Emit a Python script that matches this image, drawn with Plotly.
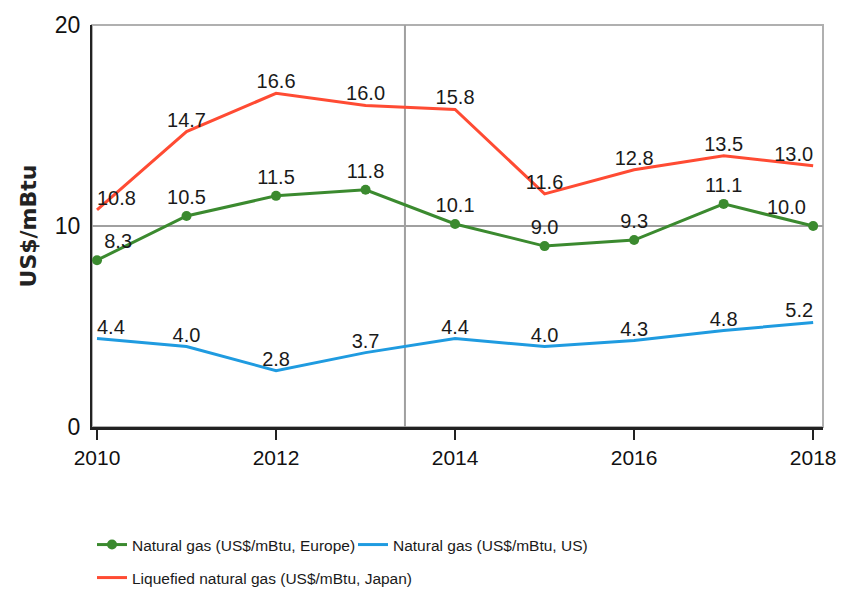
import plotly.graph_objects as go

years = [2010, 2011, 2012, 2013, 2014, 2015, 2016, 2017, 2018]
europe = [8.3, 10.5, 11.5, 11.8, 10.1, 9.0, 9.3, 11.1, 10.0]
us = [4.4, 4.0, 2.8, 3.7, 4.4, 4.0, 4.3, 4.8, 5.2]
japan = [10.8, 14.7, 16.6, 16.0, 15.8, 11.6, 12.8, 13.5, 13.0]
names = ["Natural gas (US$/mBtu, Europe)", "Natural gas (US$/mBtu, US)",
         "Liquefied natural gas (US$/mBtu, Japan)"]
colors = ["#3b8a2f", "#1f9be0", "#ff4b33"]
y_ticks = [0, 10, 20]
x_ticks = [2010, 2012, 2014, 2016, 2018]
divider_x = 2013.44

FONT = "Liberation Sans, Arial, sans-serif"
LBL = dict(size=20, color="#1a1a1a", family=FONT)

def positions(n):
    return ["top right"] + ["top center"] * (n - 2) + ["top left"]

fig = go.Figure()
fig.add_trace(go.Scatter(x=years, y=europe, name=names[0], mode="lines+markers+text",
                         line=dict(color=colors[0], width=3), marker=dict(size=10, color=colors[0]),
                         text=[f"{v:.1f}" for v in europe], textposition=positions(len(years)),
                         textfont=LBL, cliponaxis=False, legend="legend"))
fig.add_trace(go.Scatter(x=years, y=us, name=names[1], mode="lines+text",
                         line=dict(color=colors[1], width=3),
                         text=[f"{v:.1f}" for v in us], textposition=positions(len(years)),
                         textfont=LBL, cliponaxis=False, legend="legend"))
fig.add_trace(go.Scatter(x=years, y=japan, name=names[2], mode="lines+text",
                         line=dict(color=colors[2], width=3),
                         text=[f"{v:.1f}" for v in japan], textposition=positions(len(years)),
                         textfont=LBL, cliponaxis=False, legend="legend2"))

# frame
fig.add_shape(type="rect", xref="paper", yref="paper", x0=0, x1=1, y0=0, y1=1,
              line=dict(color="#b0b0b0", width=2), layer="below")
fig.add_shape(type="line", xref="x", yref="paper", x0=divider_x, x1=divider_x, y0=0, y1=1,
              line=dict(color="#a0a0a0", width=2), layer="below")

LEG_FONT = dict(size=15.5, family=FONT, color="#1a1a1a")
fig.update_layout(
    width=851, height=599,
    margin=dict(l=84, r=36, t=17, b=180),
    paper_bgcolor="white", plot_bgcolor="white",
    font=dict(family=FONT, color="#1a1a1a"),
    showlegend=True,
    legend=dict(orientation="h", x=0.0, xanchor="left", y=-0.2935, yanchor="middle",
                font=LEG_FONT, entrywidth=216, traceorder="normal", itemwidth=30,
                bgcolor="rgba(0,0,0,0)"),
    legend2=dict(orientation="h", x=0.0, xanchor="left", y=-0.3756, yanchor="middle",
                 font=LEG_FONT, itemwidth=30, bgcolor="rgba(0,0,0,0)"),
    xaxis=dict(range=[2009.944, 2018.11], tickvals=x_ticks, ticks="outside", ticklen=10,
               tickwidth=2, tickcolor="#222", showgrid=False, zeroline=False,
               showline=True, linecolor="#222", linewidth=3, automargin=False,
               tickfont=dict(size=21, family=FONT, color="#111")),
    yaxis=dict(range=[0, 20], tickvals=y_ticks, showgrid=True, gridcolor="#a0a0a0", gridwidth=2,
               zeroline=False, showline=True, linecolor="#222", linewidth=2, automargin=False,
               ticks="", ticklabelstandoff=5, tickfont=dict(size=23, family=FONT, color="#111"),
               title=dict(text="<b>US$/mBtu</b>", standoff=12,
                          font=dict(size=22, family="DejaVu Sans, sans-serif", color="#222"))),
)

fig.write_html("out.html")
